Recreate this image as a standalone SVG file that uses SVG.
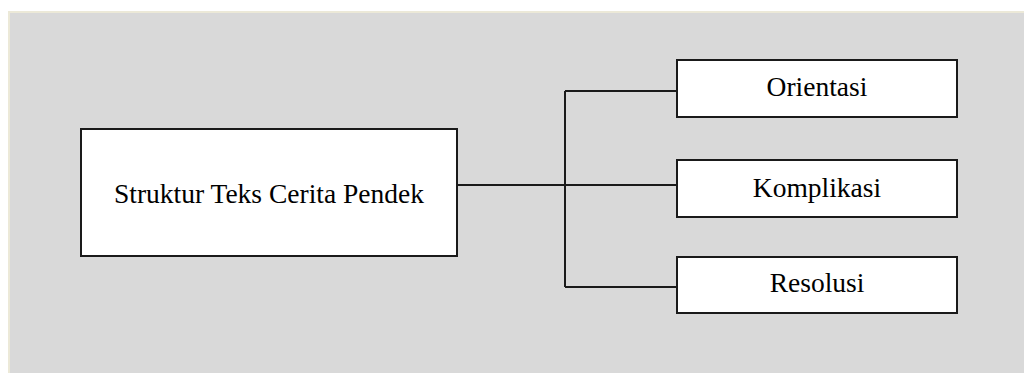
<svg xmlns="http://www.w3.org/2000/svg" width="1024" height="373" viewBox="0 0 1024 373">
<style>
.box{fill:#ffffff;stroke:#1a1a1a;stroke-width:2}
.lbl{font-family:"Liberation Serif","Times New Roman",serif;font-size:27.5px;fill:#000;text-anchor:middle}
.conn{fill:none;stroke:#1a1a1a;stroke-width:2}
</style>
<rect x="0" y="0" width="1024" height="373" fill="#ffffff"/>
<rect x="8" y="11" width="1016" height="362" fill="#ece9d8"/>
<rect x="10" y="13" width="1014" height="360" fill="#d9d9d9"/>
<g id="connectors">
<path class="conn" d="M457 185 H677"/>
<path class="conn" d="M565 91 V287"/>
<path class="conn" d="M565 91 H677"/>
<path class="conn" d="M565 287 H677"/>
</g>
<g id="node-main">
<rect class="box" x="81" y="129" width="376" height="127"/>
<text class="lbl" x="269" y="203">Struktur Teks Cerita Pendek</text>
</g>
<g id="node-orientasi">
<rect class="box" x="677" y="60" width="280" height="57"/>
<text class="lbl" x="817" y="96">Orientasi</text>
</g>
<g id="node-komplikasi">
<rect class="box" x="677" y="160" width="280" height="57"/>
<text class="lbl" x="817" y="197">Komplikasi</text>
</g>
<g id="node-resolusi">
<rect class="box" x="677" y="257" width="280" height="56"/>
<text class="lbl" x="817" y="292">Resolusi</text>
</g>
</svg>
